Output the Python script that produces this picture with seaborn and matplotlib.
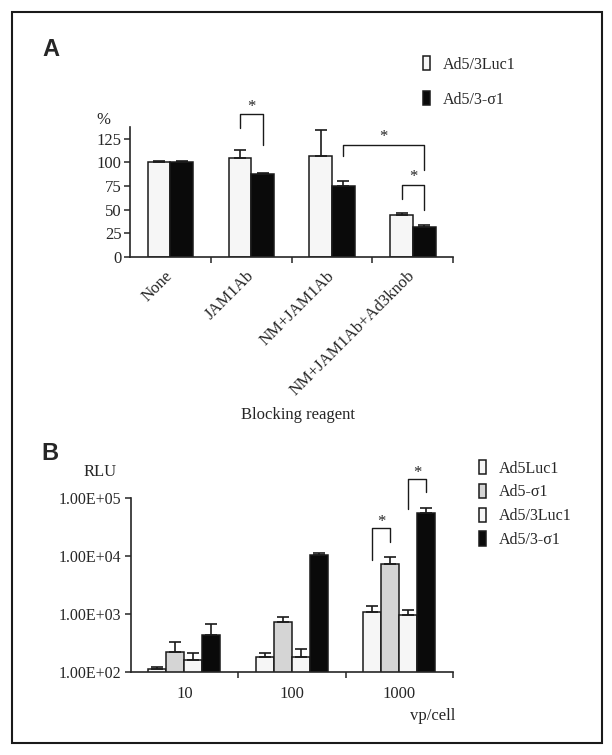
"""
Blocking and dose-response panels (A: % infection, B: RLU log scale).
"""
import matplotlib
matplotlib.use("Agg")
import matplotlib.pyplot as plt
from matplotlib.patches import Patch, Rectangle
from matplotlib.ticker import FixedLocator, NullLocator
import seaborn as sns
import pandas as pd
import numpy as np

# Panel A data
a_groups = ["None", "JAM1Ab", "NM+JAM1Ab", "NM+JAM1Ab+Ad3knob"]
a_series = ["Ad5/3Luc1", "Ad5/3-σ1"]
a_luc = [100, 105, 107, 44]
a_luc_err = [2, 8, 27, 2]
a_sig = [100, 88, 75, 31]
a_sig_err = [2, 1, 5, 2.5]
a_yticks = [0, 25, 50, 75, 100, 125]

# Panel B data
b_doses = ["10", "100", "1000"]
b_series = ["Ad5Luc1", "Ad5-σ1", "Ad5/3Luc1", "Ad5/3-σ1"]
b_ad5luc = [114, 185, 1106]
b_ad5luc_err = [11, 34, 294]
b_ad5sig = [224, 747, 7450]
b_ad5sig_err = [108, 138, 2220]
b_ad53luc = [162, 185, 970]
b_ad53luc_err = [57, 71, 210]
b_ad53sig = [431, 10590, 55600]
b_ad53sig_err = [251, 710, 13000]
b_yticks = [1e2, 1e3, 1e4, 1e5]
b_ytick_labels = ["1.00E+02", "1.00E+03", "1.00E+04", "1.00E+05"]

# significance brackets: (group, series) left bar, right bar, top, left foot, right foot
a_brackets = [((1, 0), (1, 1), 151, 137, 119),
              ((2, 1), (3, 1), 119, 106.5, 92.4),
              ((3, 0), (3, 1), 76.4, 61.5, 49.7)]
b_brackets = [((2, 0), (2, 1), 30000, 8700, 17400),
              ((2, 2), (2, 3), 213000, 64300, 125000)]

WHITE = "#f6f6f6"
GREY = "#d5d5d5"
BLACK = "#0a0a0a"


def add_errbars(ax, containers, errs):
    for cont, err in zip(containers, errs):
        xs = [p.get_x() + p.get_width() / 2 for p in cont.patches]
        ys = [p.get_height() for p in cont.patches]
        ax.errorbar(xs, ys, yerr=[np.zeros(len(err)), err], fmt="none",
                    ecolor="k", elinewidth=1.2, capsize=4, capthick=1.2)


def add_brackets(ax, containers, brackets, star_off):
    for (g1, s1), (g2, s2), top, y1, y2 in brackets:
        p1 = containers[s1].patches[g1]
        p2 = containers[s2].patches[g2]
        x1 = p1.get_x() + p1.get_width() / 2
        x2 = p2.get_x() + p2.get_width() / 2
        ax.plot([x1, x1, x2, x2], [y1, top, top, y2], color="k", lw=1,
                clip_on=False)
        ax.annotate("*", ((x1 + x2) / 2, top), xytext=(0, star_off),
                    textcoords="offset points", ha="center", va="center",
                    fontsize=12, annotation_clip=False)


sns.set_theme(style="ticks")
plt.rcParams["font.family"] = ["Liberation Serif", "DejaVu Serif"]
plt.rcParams["axes.linewidth"] = 1.2

fig = plt.figure(figsize=(6.12, 7.55), dpi=100)

# ---- Panel A ----
df_a = pd.DataFrame({"group": a_groups * 2,
                     "series": [a_series[0]] * 4 + [a_series[1]] * 4,
                     "value": a_luc + a_sig})
ax_a = fig.add_axes([0.2124, 0.66, 0.5283, 0.1722])
sns.barplot(data=df_a, x="group", y="value", hue="series", ax=ax_a,
            palette=[WHITE, BLACK], width=0.56, errorbar=None,
            edgecolor="k", linewidth=1.1, legend=False)
cont_a = list(ax_a.containers)
add_errbars(ax_a, cont_a, [a_luc_err, a_sig_err])
add_brackets(ax_a, cont_a, a_brackets, 5.5)

ax_a.set_ylim(0, 138)
ax_a.set_xlim(-0.5, 3.5)
ax_a.set_yticks(a_yticks)
ax_a.set_xticks(range(len(a_groups)))
ax_a.set_xticklabels(a_groups, rotation=45, ha="right", va="center",
                     rotation_mode="anchor")
ax_a.xaxis.set_minor_locator(FixedLocator([0.5, 1.5, 2.5, 3.5]))
ax_a.tick_params(axis="x", which="major", length=0, pad=12, labelsize=12)
ax_a.tick_params(axis="x", which="minor", length=4, width=1.1, direction="out")
ax_a.tick_params(axis="y", length=4, width=1.1, pad=2, labelsize=12)
sns.despine(ax=ax_a)
ax_a.set_xlabel("Blocking reagent", fontsize=12)
ax_a.xaxis.set_label_coords(0.52, -1.154)
ax_a.set_ylabel("%", rotation=0, fontsize=12, ha="center", va="center")
ax_a.yaxis.set_label_coords(-0.082, 1.05)

fig.legend(handles=[Patch(facecolor=WHITE, edgecolor="k", lw=1.1),
                    Patch(facecolor=BLACK, edgecolor="k", lw=1.1)],
           labels=a_series, loc="upper left",
           bbox_to_anchor=(423 / 612, 1 - 56 / 755), frameon=False,
           fontsize=11.5, handlelength=0.45, handleheight=1.0,
           handletextpad=0.8, labelspacing=1.15, borderpad=0,
           borderaxespad=0)

# ---- Panel B ----
b_vals = b_ad5luc + b_ad5sig + b_ad53luc + b_ad53sig
df_b = pd.DataFrame({"dose": b_doses * 4,
                     "series": [s for s in b_series for _ in b_doses],
                     "value": b_vals})
ax_b = fig.add_axes([0.2136, 0.1095, 0.5266, 0.2309])
ax_b.set_yscale("log")
sns.barplot(data=df_b, x="dose", y="value", hue="series", ax=ax_b,
            palette=[WHITE, GREY, WHITE, BLACK], width=0.67, errorbar=None,
            edgecolor="k", linewidth=1.1, legend=False)
cont_b = list(ax_b.containers)
add_errbars(ax_b, cont_b, [b_ad5luc_err, b_ad5sig_err, b_ad53luc_err,
                           b_ad53sig_err])
add_brackets(ax_b, cont_b, b_brackets, 4.5)

ax_b.set_ylim(1e2, 1e5)
ax_b.set_xlim(-0.5, 2.5)
ax_b.set_yticks(b_yticks)
ax_b.set_yticklabels(b_ytick_labels)
ax_b.yaxis.set_minor_locator(NullLocator())
ax_b.xaxis.set_minor_locator(FixedLocator([0.5, 1.5, 2.5]))
ax_b.tick_params(axis="x", which="major", length=0, pad=10, labelsize=12)
ax_b.tick_params(axis="x", which="minor", length=4, width=1.1, direction="out")
ax_b.tick_params(axis="y", length=4, width=1.1, pad=3, labelsize=11.5)
sns.despine(ax=ax_b)
ax_b.set_xlabel("vp/cell", fontsize=12, ha="right")
ax_b.xaxis.set_label_coords(1.006, -0.205)
ax_b.set_ylabel("RLU", rotation=0, fontsize=12, ha="center", va="center")
ax_b.yaxis.set_label_coords(-0.095, 1.149)

fig.legend(handles=[Patch(facecolor=c, edgecolor="k", lw=1.1)
                    for c in [WHITE, GREY, WHITE, BLACK]],
           labels=b_series, loc="upper left",
           bbox_to_anchor=(479 / 612, 1 - 460 / 755), frameon=False,
           fontsize=11.5, handlelength=0.45, handleheight=1.0,
           handletextpad=0.8, labelspacing=0.45, borderpad=0,
           borderaxespad=0)

# panel letters and frame
fig.text(42 / 612, 1 - 49 / 755, "A", fontsize=17, fontweight="bold",
         family="Liberation Sans", va="center")
fig.text(41 / 612, 1 - 453 / 755, "B", fontsize=17, fontweight="bold",
         family="Liberation Sans", va="center")
fig.patches.append(Rectangle((12 / 612, 12 / 755), 590 / 612, 731 / 755,
                             transform=fig.transFigure, fill=False,
                             lw=1.5, edgecolor="k"))

plt.savefig("out.png", dpi=100)
